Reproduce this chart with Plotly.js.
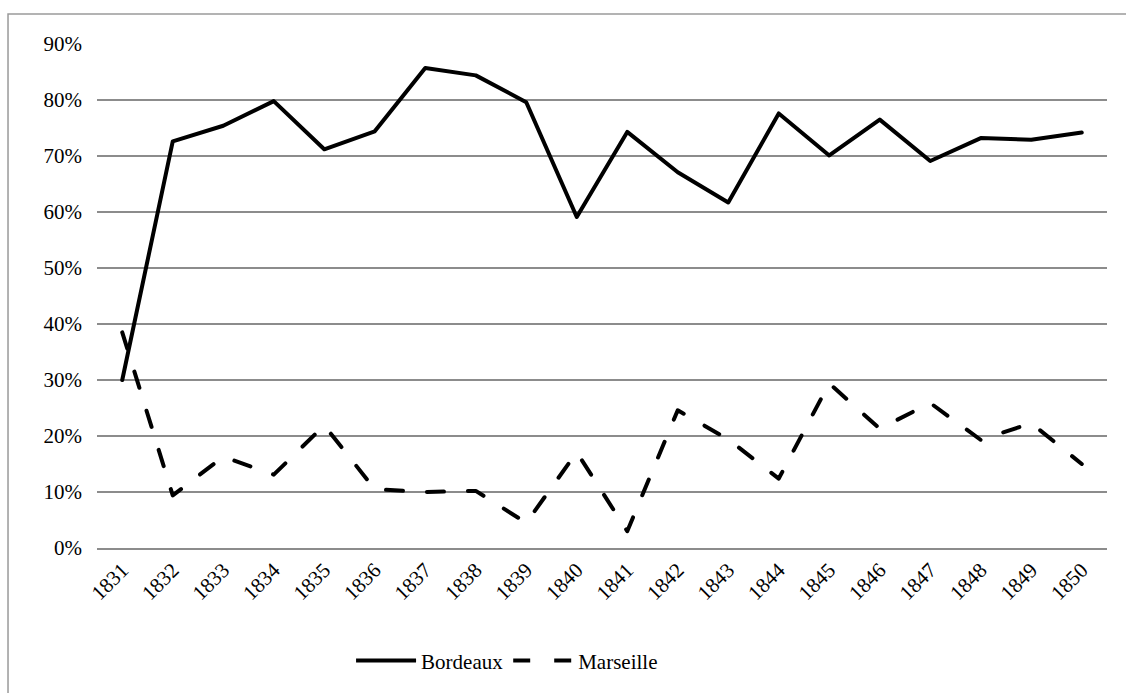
<!DOCTYPE html>
<html>
<head>
<meta charset="utf-8">
<script src="https://cdn.plot.ly/plotly-3.0.1.min.js"></script>
<style>
  html, body { margin: 0; padding: 0; background: #fff; }
  #chart { width: 1126px; height: 693px; }
  .scatterlayer .js-line { stroke-linecap: round; stroke-linejoin: round; }
</style>
</head>
<body>
<div id="chart"></div>
<script>
const years = ["1831","1832","1833","1834","1835","1836","1837","1838","1839","1840",
               "1841","1842","1843","1844","1845","1846","1847","1848","1849","1850"];
const bordeaux = [0.300, 0.726, 0.754, 0.798, 0.712, 0.744, 0.857, 0.844, 0.796, 0.591,
                  0.743, 0.671, 0.617, 0.776, 0.701, 0.765, 0.691, 0.732, 0.729, 0.742];
const marseille = [0.385, 0.094, 0.163, 0.131, 0.219, 0.105, 0.100, 0.102, 0.045, 0.171,
                   0.030, 0.246, 0.194, 0.124, 0.294, 0.213, 0.259, 0.193, 0.223, 0.150];

const FONT = "Liberation Serif";
const GRID = "#8c8c8c";

const traces = [
  { x: years, y: bordeaux, type: "scatter", mode: "lines", name: "Bordeaux",
    line: { color: "#000", width: 4 } },
  { x: years, y: marseille, type: "scatter", mode: "lines", name: "Marseille",
    line: { color: "#000", width: 4, dash: "17px,24px" } }
];

const layout = {
  width: 1126, height: 693,
  margin: { l: 97, r: 19, t: 44, b: 145 },
  paper_bgcolor: "#fff", plot_bgcolor: "#fff",
  font: { family: FONT, size: 21, color: "#000" },
  showlegend: true,
  legend: { orientation: "h", x: 0.406, xanchor: "center", y: -0.224, yanchor: "middle",
            font: { family: FONT, size: 21, color: "#000" }, itemwidth: 60 },
  xaxis: { type: "category", range: [-0.5, 19.5], tickangle: -45, showgrid: false,
           showline: true, linecolor: GRID, linewidth: 1.5, ticks: "", zeroline: false,
           tickfont: { family: FONT, size: 21, color: "#000" } },
  yaxis: { range: [0, 0.9], dtick: 0.1, tick0: 0, tickformat: ".0%", showgrid: true,
           gridcolor: GRID, gridwidth: 1.5, zeroline: false, ticks: "",
           ticklabelstandoff: 14,
           tickfont: { family: FONT, size: 21, color: "#000" } },
  shapes: [
    { type: "rect", xref: "paper", yref: "paper", x0: -0.0881, x1: 1.2, y0: -0.5, y1: 1.0595,
      line: { color: "#9a9a9a", width: 1.5 }, fillcolor: "rgba(0,0,0,0)", layer: "below" }
  ]
};

Plotly.newPlot("chart", traces, layout, { staticPlot: true, displayModeBar: false });
</script>
</body>
</html>
